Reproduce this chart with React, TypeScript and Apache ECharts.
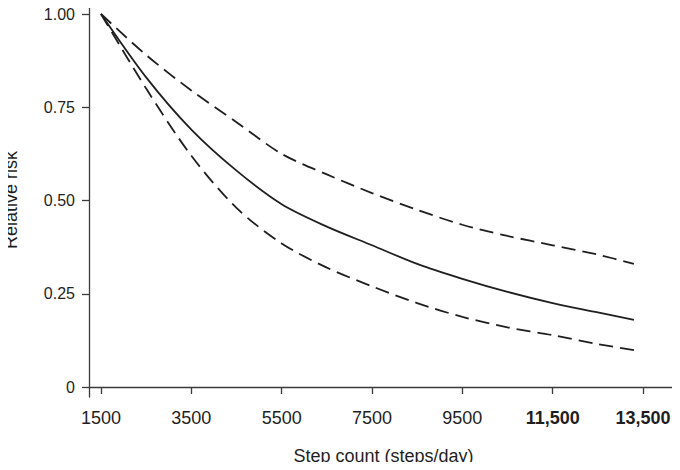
import React, { useEffect, useRef } from "react";
import * as echarts from "echarts";

const steps = [1500, 2500, 3500, 4500, 5500, 6500, 7500, 8500, 9500, 10500, 11500, 12500, 13300];
const rrEstimate = [1.0, 0.83, 0.69, 0.58, 0.49, 0.43, 0.38, 0.33, 0.29, 0.255, 0.225, 0.2, 0.18];
const rrUpper = [1.0, 0.89, 0.795, 0.71, 0.625, 0.57, 0.52, 0.475, 0.435, 0.405, 0.38, 0.355, 0.33];
const rrLower = [1.0, 0.8, 0.62, 0.48, 0.385, 0.32, 0.27, 0.225, 0.188, 0.16, 0.139, 0.115, 0.099];

const xTicks = [1500, 3500, 5500, 7500, 9500, 11500, 13500];
const xTickLabels = ["1500", "3500", "5500", "7500", "9500", "11,500", "13,500"];
const xBoldTicks = [11500, 13500];
const yTicks = [0, 0.25, 0.5, 0.75, 1];
const yTickLabels = ["0", "0.25", "0.50", "0.75", "1.00"];

const ink = "#1f1f1f";
const axisColor = "#3a3a3a";
const fontFamily = "Arial, 'Liberation Sans', sans-serif";

export default function App() {
  const ref = useRef<HTMLDivElement>(null);
  useEffect(() => {
    if (!ref.current) return;
    const chart = echarts.init(ref.current, null, { renderer: "svg" });
    const pairs = (ys: number[]) => steps.map((s, i) => [s, ys[i]]);
    const lineSeries = (name: string, ys: number[], dashed: boolean) => ({
      name,
      type: "line",
      data: pairs(ys),
      smooth: 0.3,
      symbol: "none",
      lineStyle: {
        color: ink,
        width: 1.8,
        type: dashed ? [14, 7] : "solid",
      },
    });
    chart.setOption({
      animation: false,
      backgroundColor: "#fff",
      grid: { left: 89, right: 2, top: 3, bottom: 73, outerBoundsMode: "none", containLabel: false },
      xAxis: {
        type: "value",
        min: 1234,
        max: 14275,
        name: "Step count (steps/day)",
        nameLocation: "middle",
        nameGap: 50,
        nameTextStyle: { fontSize: 18, color: ink, fontFamily },
        splitLine: { show: false },
        axisLine: { lineStyle: { color: axisColor, width: 1.3 } },
        axisTick: { show: true, length: 7, customValues: xTicks, lineStyle: { color: axisColor, width: 1.3 } },
        axisLabel: {
          customValues: xTicks,
          margin: 12,
          fontSize: 18,
          color: ink,
          fontFamily,
          formatter: (v: number) => {
            const i = xTicks.indexOf(v);
            const t = i >= 0 ? xTickLabels[i] : String(v);
            return xBoldTicks.includes(v) ? `{b|${t}}` : t;
          },
          rich: { b: { fontWeight: "bold", fontSize: 18, color: ink, fontFamily } },
        },
      },
      yAxis: {
        type: "value",
        min: -0.0268,
        max: 1.0295,
        name: "Relative risk",
        nameLocation: "middle",
        nameGap: 69,
        nameTextStyle: { fontSize: 18, color: ink, fontFamily },
        splitLine: { show: false },
        axisLine: { show: true, lineStyle: { color: axisColor, width: 1.3 } },
        axisTick: { show: true, length: 7, customValues: yTicks, lineStyle: { color: axisColor, width: 1.3 } },
        axisLabel: {
          customValues: yTicks,
          margin: 14,
          fontSize: 16,
          color: ink,
          fontFamily,
          formatter: (v: number) => {
            const i = yTicks.findIndex((t) => Math.abs(t - v) < 1e-6);
            return i >= 0 ? yTickLabels[i] : String(v);
          },
        },
      },
      series: [
        lineSeries("Upper 95% CI", rrUpper, true),
        lineSeries("Relative risk", rrEstimate, false),
        lineSeries("Lower 95% CI", rrLower, true),
      ],
    });
    return () => chart.dispose();
  }, []);
  return <div ref={ref} style={{ width: 680, height: 470, margin: -8 }} />;
}
